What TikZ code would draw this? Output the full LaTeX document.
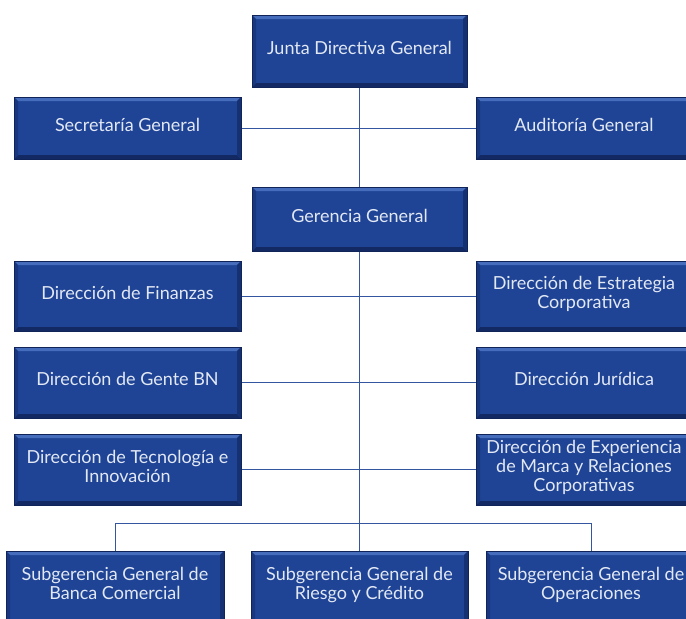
\documentclass[tikz,border=0pt]{standalone}
\usepackage{fontspec}
\setmainfont{Lato}
\usetikzlibrary{backgrounds,calc}
\definecolor{boxfill}{RGB}{31,68,150}
\definecolor{boxdark}{RGB}{16,36,90}
\definecolor{boxlight}{RGB}{70,108,188}
\definecolor{boxtext}{RGB}{226,232,244}
\definecolor{linecol}{RGB}{52,86,160}
\tikzset{
  orgbox/.style={draw=boxdark, line width=0.8pt, fill=boxfill, text=boxtext,
    align=center, inner sep=2pt, font=\fontsize{18}{19}\selectfont, text depth=7pt,
    path picture={
      \fill[boxlight] (path picture bounding box.north west) -- (path picture bounding box.north east)
        -- ([xshift=-4pt,yshift=-4pt]path picture bounding box.north east)
        -- ([xshift=4pt,yshift=-4pt]path picture bounding box.north west) -- cycle;
      \fill[boxdark!85!boxfill] (path picture bounding box.south west) -- (path picture bounding box.south east)
        -- ([xshift=-4pt,yshift=4pt]path picture bounding box.south east)
        -- ([xshift=4pt,yshift=4pt]path picture bounding box.south west) -- cycle;
      \fill[boxdark!60!boxfill] (path picture bounding box.north east) -- (path picture bounding box.south east)
        -- ([xshift=-4pt,yshift=4pt]path picture bounding box.south east)
        -- ([xshift=-4pt,yshift=-4pt]path picture bounding box.north east) -- cycle;
      \fill[boxdark!40!boxfill] (path picture bounding box.north west) -- (path picture bounding box.south west)
        -- ([xshift=4pt,yshift=4pt]path picture bounding box.south west)
        -- ([xshift=4pt,yshift=-4pt]path picture bounding box.north west) -- cycle;
    }},
  leftbox/.style={orgbox, minimum width=227pt},
  rightbox/.style={orgbox, minimum width=216pt},
  conn/.style={draw=linecol, line width=1pt}
}
\begin{document}
\begin{tikzpicture}[x=1pt,y=-1pt]
\clip (0,0) rectangle (686,619);
\useasboundingbox (0,0) rectangle (686,619);
\node[orgbox, minimum width=215pt, minimum height=72pt] (junta) at (359.5,51) {Junta Directiva General};
\node[leftbox, minimum height=62pt] (sec) at (127.5,128) {Secretaría General};
\node[rightbox, minimum height=62pt] (aud) at (584,128) {Auditoría General};
\node[orgbox, minimum width=215pt, minimum height=64pt] (ger) at (359.5,219) {Gerencia General};
\node[leftbox, minimum height=70pt] (fin) at (127.5,296) {Dirección de Finanzas};
\node[rightbox, minimum height=70pt] (est) at (584,296) {Dirección de Estrategia\\Corporativa};
\node[leftbox, minimum height=71pt] (gente) at (127.5,382.5) {Dirección de Gente BN};
\node[rightbox, minimum height=71pt] (jur) at (584,382.5) {Dirección Jurídica};
\node[leftbox, minimum height=71pt] (tec) at (127.5,469.5) {Dirección de Tecnología e\\Innovación};
\node[rightbox, minimum height=71pt] (exp) at (584,469.5) {Dirección de Experiencia\\de Marca y Relaciones\\Corporativas};
\node[orgbox, minimum width=218pt, minimum height=72pt] (sub1) at (115,587) {Subgerencia General de\\Banca Comercial};
\node[orgbox, minimum width=217pt, minimum height=72pt] (sub2) at (359.5,587) {Subgerencia General de\\Riesgo y Crédito};
\node[orgbox, minimum width=210pt, minimum height=72pt] (sub3) at (591,587) {Subgerencia General de\\Operaciones};
\coordinate (busl) at (115,523);
\coordinate (busr) at (591,523);
\begin{scope}[on background layer]
\draw[conn] (junta.south) -- (ger.north);
\draw[conn] (ger.south) -- (sub2.north);
\draw[conn] (sec.east) -- (aud.west);
\draw[conn] (fin.east) -- (est.west);
\draw[conn] (gente.east) -- (jur.west);
\draw[conn] (tec.east) -- (exp.west);
\draw[conn] (sub1.north) -- (busl) -- (busr) -- (sub3.north);
\end{scope}
\end{tikzpicture}
\end{document}
